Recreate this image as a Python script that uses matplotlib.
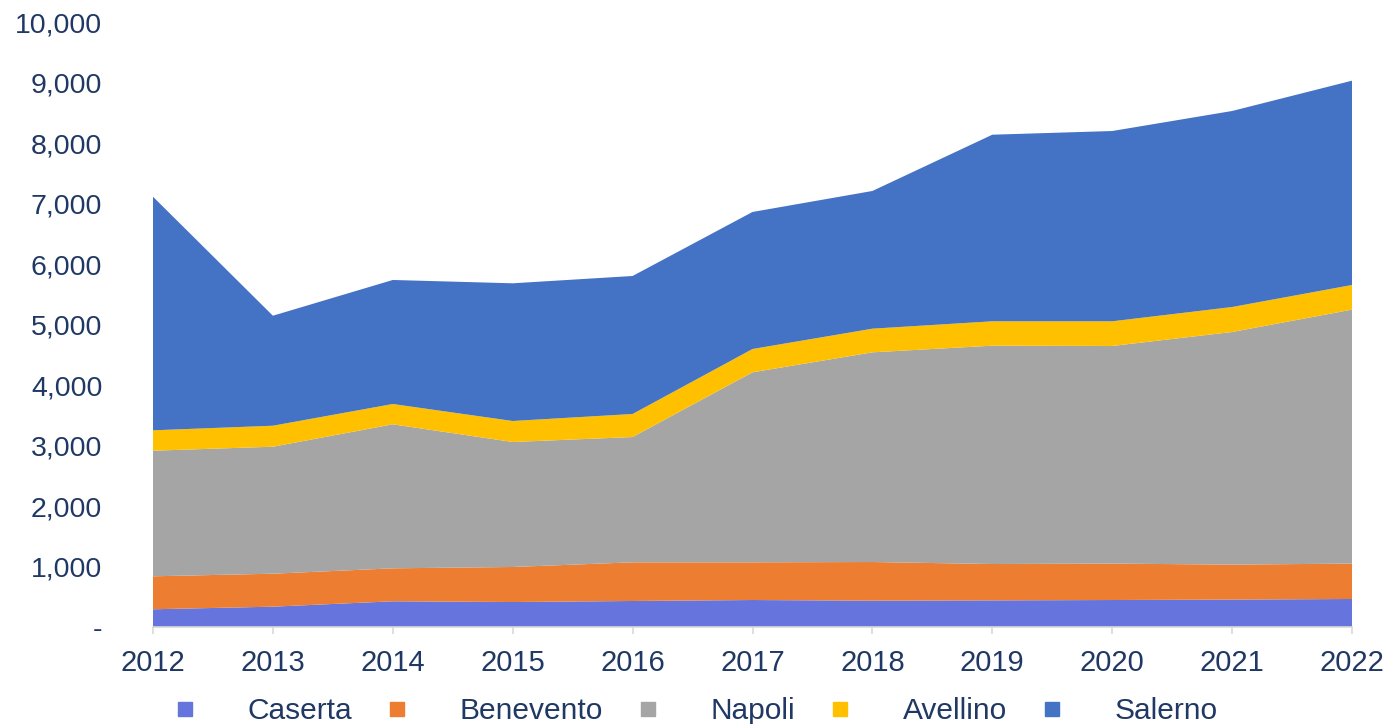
import matplotlib
matplotlib.use("Agg")
import matplotlib.pyplot as plt
from matplotlib.lines import Line2D
from matplotlib.ticker import FuncFormatter, MultipleLocator

plt.rcParams['font.family'] = ['Liberation Sans', 'DejaVu Sans']

years = [2012, 2013, 2014, 2015, 2016, 2017, 2018, 2019, 2020, 2021, 2022]
caserta = [293, 336, 425, 413, 430, 446, 435, 440, 446, 453, 463]
benevento = [545, 545, 545, 579, 639, 623, 639, 601, 602, 578, 585]
napoli = [2076, 2099, 2380, 2066, 2071, 3141, 3466, 3609, 3597, 3845, 4198]
avellino = [337, 347, 336, 347, 381, 385, 391, 403, 408, 413, 407]
salerno = [3861, 1818, 2050, 2276, 2281, 2265, 2276, 3084, 3145, 3240, 3377]

names = ['Caserta', 'Benevento', 'Napoli', 'Avellino', 'Salerno']
colors = ['#6674DE', '#ED7D31', '#A5A5A5', '#FFC000', '#4472C4']
text_color = '#1F3864'

fig = plt.figure(figsize=(13.88, 7.24), dpi=100)
ax = fig.add_axes([153/1388, 1-627/724, 1199/1388, 605/724])

ax.stackplot(years, caserta, benevento, napoli, avellino, salerno,
             colors=colors, linewidth=0)

ax.set_xlim(2012, 2022)
ax.set_ylim(0, 10000)
ax.yaxis.set_major_locator(MultipleLocator(1000))
ax.set_xticks(years)
ax.set_xticklabels([str(y) for y in years])
ax.yaxis.set_major_formatter(FuncFormatter(lambda v, p: '-' if v == 0 else f'{int(v):,}'))

for s in ['top', 'right', 'left']:
    ax.spines[s].set_visible(False)
ax.spines['bottom'].set_color('#D9D9D9')
ax.spines['bottom'].set_linewidth(1.2)

ax.tick_params(axis='y', length=0, pad=36.5, labelsize=20.5, labelcolor=text_color)
ax.tick_params(axis='x', length=5, width=1.2, color='#D9D9D9', pad=11,
               labelsize=21, labelcolor=text_color)

handles = [Line2D([0], [0], marker='s', linestyle='none', markersize=10,
                  markerfacecolor=c, markeredgecolor=c) for c in colors]
leg = fig.legend(handles, names, loc='center', bbox_to_anchor=(0.5, 1-711/724),
                 ncol=5, frameon=False, fontsize=21.5, handlelength=1.0,
                 handletextpad=1.6, columnspacing=1.0, borderaxespad=0,
                 borderpad=0)
for t in leg.get_texts():
    t.set_color(text_color)

fig.savefig('out.png', dpi=100)
